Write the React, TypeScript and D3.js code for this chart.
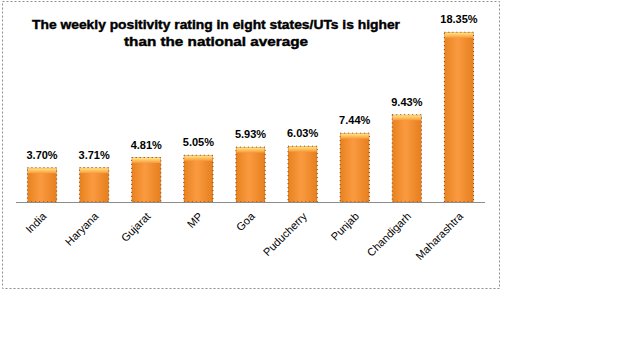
import { useEffect, useRef } from "react";
import * as d3 from "d3";

const states = ["India", "Haryana", "Gujarat", "MP", "Goa", "Puducherry", "Punjab", "Chandigarh", "Maharashtra"];
const positivity = [3.7, 3.71, 4.81, 5.05, 5.93, 6.03, 7.44, 9.43, 18.35];
const titleLines = ["The weekly positivity rating in eight states/UTs is higher", "than the national average"];

export default function App() {
  const svgRef = useRef<SVGSVGElement | null>(null);

  useEffect(() => {
    if (!svgRef.current) return;
    const width = 625;
    const height = 362;
    const svg = d3.select(svgRef.current);
    svg.selectAll("*").remove();
    svg.attr("width", width).attr("height", height);

    svg.append("rect").attr("width", width).attr("height", height).attr("fill", "#fff");

    const defs = svg.append("defs");
    const body = defs.append("linearGradient").attr("id", "barBody").attr("x1", 0).attr("x2", 1).attr("y1", 0).attr("y2", 0);
    body.append("stop").attr("offset", "0%").attr("stop-color", "#e8821f");
    body.append("stop").attr("offset", "45%").attr("stop-color", "#fa9a40");
    body.append("stop").attr("offset", "100%").attr("stop-color", "#e67f1e");
    const cap = defs.append("linearGradient").attr("id", "barCap").attr("x1", 0).attr("x2", 0).attr("y1", 0).attr("y2", 1);
    cap.append("stop").attr("offset", "0%").attr("stop-color", "#ffe680");
    cap.append("stop").attr("offset", "100%").attr("stop-color", "#fa9a40");

    // chart frame
    svg.append("rect")
      .attr("x", 2.5).attr("y", 1.5).attr("width", 497).attr("height", 287)
      .attr("fill", "#fff")
      .attr("stroke", "#8c8c8c")
      .attr("stroke-dasharray", "2,2");

    const margin = { left: 16, right: 485, top: 17, bottom: 202 };
    const x = d3.scaleBand<string>().domain(states).range([margin.left, margin.right]).paddingInner(0.44).paddingOuter(0.22);
    const y = d3.scaleLinear().domain([0, 20]).range([margin.bottom, margin.top]);

    svg.append("g")
      .attr("font-family", "Liberation Sans, Arial, sans-serif")
      .attr("font-weight", 700)
      .attr("font-size", 12.5)
      .attr("text-anchor", "middle")
      .attr("stroke", "#000")
      .attr("stroke-width", 0.4)
      .selectAll("text")
      .data(titleLines)
      .join("text")
      .attr("x", 216)
      .attr("y", (_, i) => 29 + i * 17)
      .attr("textLength", (_, i) => (i === 0 ? 368 : 184))
      .attr("lengthAdjust", "spacingAndGlyphs")
      .text(d => d);

    const bars = svg.append("g").selectAll("g").data(states).join("g");
    bars.append("rect")
      .attr("x", d => x(d)!)
      .attr("y", (_, i) => y(positivity[i]))
      .attr("width", x.bandwidth())
      .attr("height", (_, i) => margin.bottom - y(positivity[i]))
      .attr("fill", "url(#barBody)")
      .attr("stroke", "#6b3a10")
      .attr("stroke-width", 1)
      .attr("stroke-dasharray", "1,3");
    bars.append("rect")
      .attr("x", d => x(d)! + 0.5)
      .attr("y", (_, i) => y(positivity[i]) + 0.5)
      .attr("width", x.bandwidth() - 1)
      .attr("height", 5)
      .attr("fill", "url(#barCap)");

    svg.append("line")
      .attr("x1", margin.left).attr("x2", margin.right)
      .attr("y1", margin.bottom + 0.5).attr("y2", margin.bottom + 0.5)
      .attr("stroke", "#8c8c8c");

    svg.append("g")
      .attr("font-family", "Liberation Sans, Arial, sans-serif")
      .attr("font-weight", 700)
      .attr("font-size", 11)
      .attr("text-anchor", "middle")
      .selectAll("text")
      .data(states)
      .join("text")
      .attr("x", d => x(d)! + x.bandwidth() / 2)
      .attr("y", (_, i) => y(positivity[i]) - 9)
      .text((_, i) => positivity[i].toFixed(2) + "%");

    svg.append("g")
      .attr("font-family", "Liberation Sans, Arial, sans-serif")
      .attr("font-size", 11)
      .attr("text-anchor", "end")
      .selectAll("text")
      .data(states)
      .join("text")
      .attr("transform", d => `translate(${x(d)! + x.bandwidth() / 2 + 5},${margin.bottom + 15}) rotate(-45)`)
      .text(d => d);
  }, []);

  return <svg ref={svgRef} style={{ position: "absolute", left: 0, top: 0 }} />;
}
